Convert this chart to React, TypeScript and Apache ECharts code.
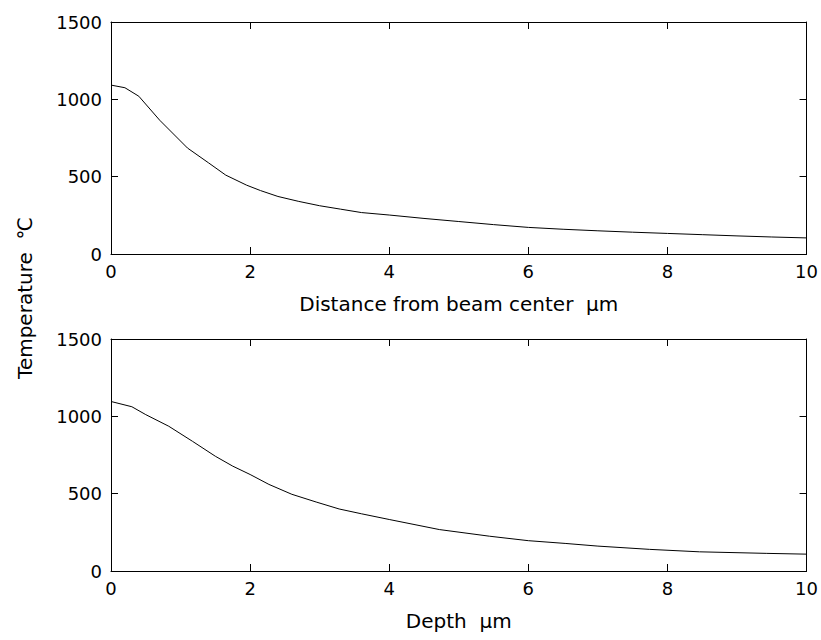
import React, { useEffect, useRef } from "react";
import * as echarts from "echarts";

const xTicks = [0, 2, 4, 6, 8, 10];
const yTicks = [0, 500, 1000, 1500];

const radialX = [0, 0.2, 0.4, 0.7, 1.1, 1.4, 1.65, 1.95, 2.15, 2.4, 2.7, 3.0, 3.3, 3.6, 4.0, 4.5, 5.0, 5.5, 6.0, 6.5, 7.0, 7.5, 8.0, 8.5, 9.0, 9.5, 10];
const radialTemp = [1092, 1075, 1020, 865, 685, 590, 510, 445, 410, 372, 340, 312, 290, 268, 252, 230, 210, 190, 172, 160, 150, 141, 133, 125, 117, 110, 104];

const depthX = [0, 0.3, 0.5, 0.83, 1.17, 1.5, 1.75, 2.0, 2.27, 2.6, 2.95, 3.28, 3.6, 4.0, 4.72, 5.44, 6.0, 6.54, 7.0, 7.74, 8.46, 9.42, 10];
const depthTemp = [1096, 1062, 1011, 936, 839, 742, 678, 624, 560, 496, 446, 401, 370, 333, 268, 225, 196, 178, 161, 140, 124, 114, 109];

const topXLabel = "Distance from beam center  μm";
const bottomXLabel = "Depth  μm";
const yLabel = "Temperature  ℃";

const FONT = "DejaVu Sans";

export default function App() {
  const ref = useRef<HTMLDivElement>(null);
  useEffect(() => {
    if (!ref.current) return;
    const chart = echarts.init(ref.current, undefined, { renderer: "svg" });
    const axisLine = { show: true, onZero: false, lineStyle: { color: "#000", width: 1 } };
    const tickIn = { show: true, inside: true, length: 7, lineStyle: { color: "#000", width: 1 } };
    const lbl = { color: "#000", fontFamily: FONT, fontSize: 18, formatter: (v: number) => String(v) };
    const grids = [
      { left: 111, top: 22, width: 696, height: 232 },
      { left: 111, top: 339, width: 696, height: 232 },
    ];
    const xAxes: any[] = [];
    const yAxes: any[] = [];
    const names = [topXLabel, bottomXLabel];
    [0, 1].forEach((g) => {
      xAxes.push({
        type: "value", gridIndex: g, min: xTicks[0], max: xTicks[xTicks.length - 1], interval: 2,
        position: "bottom", axisLine, axisTick: tickIn, splitLine: { show: false },
        axisLabel: { ...lbl, margin: 8, showMinLabel: true, showMaxLabel: true },
        name: names[g], nameLocation: "middle", nameGap: 40,
        nameTextStyle: { color: "#000", fontFamily: FONT, fontSize: 20 },
      });
      xAxes.push({
        type: "value", gridIndex: g, min: 0, max: 10, interval: 2, position: "top",
        axisLine, axisTick: tickIn, axisLabel: { show: false }, splitLine: { show: false },
      });
      yAxes.push({
        type: "value", gridIndex: g, min: yTicks[0], max: yTicks[yTicks.length - 1], interval: 500,
        position: "left", axisLine, axisTick: tickIn, splitLine: { show: false },
        axisLabel: { ...lbl, margin: 9, showMinLabel: true, showMaxLabel: true },
      });
      yAxes.push({
        type: "value", gridIndex: g, min: 0, max: 1500, interval: 500, position: "right",
        axisLine, axisTick: tickIn, axisLabel: { show: false }, splitLine: { show: false },
      });
    });
    chart.setOption({
      animation: false,
      backgroundColor: "#fff",
      grid: grids,
      xAxis: xAxes,
      yAxis: yAxes,
      series: [
        {
          type: "line", xAxisIndex: 0, yAxisIndex: 0, showSymbol: false, symbol: "none",
          data: radialX.map((x, i) => [x, radialTemp[i]]),
          lineStyle: { color: "#000", width: 1 },
        },
        {
          type: "line", xAxisIndex: 2, yAxisIndex: 2, showSymbol: false, symbol: "none",
          data: depthX.map((x, i) => [x, depthTemp[i]]),
          lineStyle: { color: "#000", width: 1 },
        },
      ],
      graphic: [
        {
          type: "text", x: 25, y: 298, rotation: Math.PI / 2,
          style: { text: yLabel, fill: "#000", font: `20px "${FONT}"`, align: "center", verticalAlign: "middle" },
        },
      ],
    });
    return () => chart.dispose();
  }, []);
  return <div ref={ref} style={{ position: "fixed", left: 0, top: 0, width: 821, height: 640, background: "#fff" }} />;
}
